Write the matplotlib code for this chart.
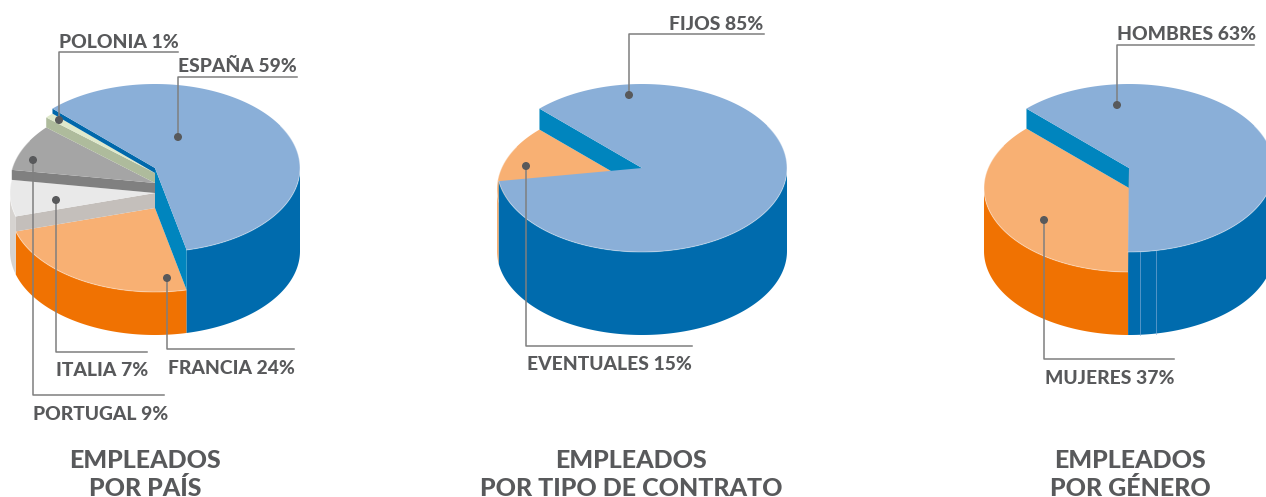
import numpy as np
import matplotlib
matplotlib.use("Agg")
import matplotlib.pyplot as plt
from matplotlib.patches import Polygon, Circle

plt.rcParams['font.family'] = ['Lato', 'DejaVu Sans']

# ---------- data ----------
country_names = ["ESPAÑA", "FRANCIA", "ITALIA", "PORTUGAL", "POLONIA"]
country_values = [59, 24, 7, 9, 1]
contract_names = ["FIJOS", "EVENTUALES"]
contract_values = [85, 15]
gender_names = ["HOMBRES", "MUJERES"]
gender_values = [62.6, 37.4]   # slice sizes as drawn
gender_labels = [63, 37]       # as printed

# ---------- style ----------
W, H = 1266, 497
RX, RY, DEPTH = 145, 84, 83
START = -45
TEXT = "#58595b"
LINE = "#7f7f7f"
BLUE = dict(top="#8aafd8", wall="#006bad")
ORANGE = dict(top="#f8b073", wall="#f07202")

fig = plt.figure(figsize=(W/100, H/100), dpi=100)
ax = fig.add_axes([0, 0, 1, 1])
ax.set_xlim(0, W); ax.set_ylim(H, 0); ax.axis("off")


def pt(cx, cy, th):
    r = np.radians(th)
    return cx + RX*np.sin(r), cy - RY*np.cos(r)


def arc(cx, cy, a, b, n=160):
    x, y = pt(cx, cy, np.linspace(a, b, n))
    return np.column_stack([x, y])


def pie(cx, cy, values, drops, styles):
    """Draw a stepped pie; slices run clockwise from START, painted lowest first."""
    edges = START + np.cumsum([0] + list(values))*3.6
    order = np.argsort(drops)[::-1]
    for i in order:
        a, b = edges[i], edges[i+1]
        top_y = cy + drops[i]
        s = styles[i]
        # outer wall: only the front half of the ellipse faces the viewer
        lo, hi = max(a, 90), min(b, 270)
        if hi > lo:
            upper = arc(cx, top_y, lo, hi)
            lower = arc(cx, cy + DEPTH, lo, hi)[::-1]
            ax.add_patch(Polygon(np.vstack([upper, lower]), fc=s["wall"], ec="none", zorder=1))
        # cut faces towards lower neighbours
        for th, low_drop, col in s.get("faces", []):
            ex, ey = pt(cx, top_y, th)
            ax.add_patch(Polygon([(cx, top_y), (ex, ey), (ex, cy+low_drop+(ey-top_y)),
                                  (cx, cy+low_drop)], fc=col, ec="none", zorder=1))
        # top
        ax.add_patch(Polygon(np.vstack([[(cx, top_y)], arc(cx, top_y, a, b)]),
                             fc=s["top"], ec="none", zorder=1))
        # light rim on the front edge
        lo2, hi2 = max(a, 60), min(b, 300)
        if hi2 > lo2:
            ax.plot(*arc(cx, top_y, lo2, hi2).T, color="white", alpha=0.35, lw=0.8, zorder=1)
    return edges


def leader(dot, corner_y, x_end, zorder=3):
    ax.plot([dot[0], dot[0], x_end], [dot[1], corner_y, corner_y], color=LINE, lw=1.1, zorder=zorder)
    ax.add_patch(Circle(dot, 4, fc=TEXT, ec="none", zorder=zorder+1))


def label(x, y, s, ha="left"):
    ax.text(x, y, s, ha=ha, va="center", color=TEXT, fontsize=13.9, fontweight=900, zorder=5)


def title(x, a, b):
    ax.text(x, 460, a, ha="center", va="center", color=TEXT, fontsize=18, fontweight=900)
    ax.text(x, 488, b, ha="center", va="center", color=TEXT, fontsize=18, fontweight=900)


# ---------- left pie ----------
cx1, cy1 = 155, 168
edges1 = START + np.cumsum([0] + country_values)*3.6
pie(cx1, cy1, country_values, [0, 40, 25, 15, 5], [
    dict(BLUE, faces=[(edges1[1], 40, "#0085be"), (edges1[0], 5, "#0068ab")]),
    ORANGE,
    dict(top="#e9e9e9", wall="#d6d3d0", faces=[(edges1[2], 40, "#c4bfbb")]),
    dict(top="#a5a5a5", wall="#808080", faces=[(edges1[3], 25, "#808080")]),
    dict(top="#dfe9cb", wall="#aebb9c", faces=[(edges1[4], 15, "#aebb9c")]),
])
leader((59, 120), 52, 178)
leader((178, 137), 77, 297)
leader((33, 160), 395, 164)
leader((56, 200), 352, 147)
leader((167, 278), 349, 294)
label(59, 42, f"{country_names[4]} {country_values[4]}%")
label(178, 67, f"{country_names[0]} {country_values[0]}%")
label(33, 414, f"{country_names[3]} {country_values[3]}%")
label(56, 370, f"{country_names[2]} {country_values[2]}%")
label(168, 368, f"{country_names[1]} {country_values[1]}%")
title(145, "EMPLEADOS", "POR PAÍS")

# ---------- middle pie ----------
cx2, cy2 = 642, 168
pie(cx2, cy2, contract_values, [0, 21], [
    dict(BLUE, faces=[(START, 21, "#0085be")]),
    dict(top=ORANGE["top"], wall=ORANGE["top"]),
])
leader((629, 95), 34, 764)
leader((526, 166), 346, 692)
label(669, 24, f"{contract_names[0]} {contract_values[0]}%")
label(527, 364, f"{contract_names[1]} {contract_values[1]}%")
title(631, "EMPLEADOS", "POR TIPO DE CONTRATO")

# ---------- right pie ----------
cx3, cy3 = 1129, 168
edges3 = START + np.cumsum([0] + gender_values)*3.6
pie(cx3, cy3, gender_values, [0, 20], [
    dict(BLUE, faces=[(START, 20, "#0085be"), (edges3[1], 20, "#e3a877")]),
    ORANGE,
])
for th in (175.6, 169.3):   # seams on the wall
    x0, y0 = pt(cx3, cy3, th)
    ax.plot([x0, x0], [y0, y0 + DEPTH], color="#8bb0d9", alpha=0.6, lw=0.7, zorder=2)
leader((1117, 105), 45, 1254)
leader((1044, 220), 359, 1174)
label(1117, 35, f"{gender_names[0]} {gender_labels[0]}%")
label(1045, 378, f"{gender_names[1]} {gender_labels[1]}%")
title(1130, "EMPLEADOS", "POR GÉNERO")

fig.savefig("out.png", dpi=100)
